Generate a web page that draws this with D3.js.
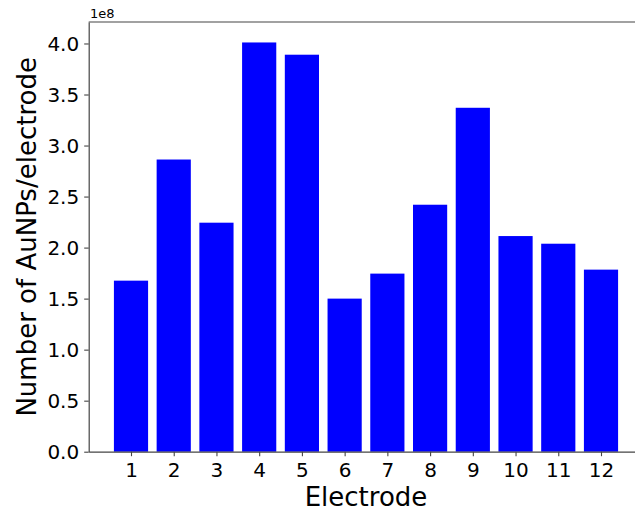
<!DOCTYPE html>
<html>
<head>
<meta charset="utf-8">
<script src="https://cdn.jsdelivr.net/npm/d3@7"></script>
<style>
  html, body { margin: 0; padding: 0; background: #fff; }
  svg { display: block; }
  text { font-family: "DejaVu Sans", sans-serif; fill: #000; }
</style>
</head>
<body>
<script>
// Electrode numbers and particle counts (in units of 1e8)
const electrodes = [1, 2, 3, 4, 5, 6, 7, 8, 9, 10, 11, 12];
const counts = [1.676, 2.863, 2.244, 4.01, 3.89, 1.50, 1.745, 2.42, 3.37, 2.113, 2.038, 1.784];
const yTicks = [0.0, 0.5, 1.0, 1.5, 2.0, 2.5, 3.0, 3.5, 4.0];

const W = 635, H = 514;
const plot = { left: 88.7, right: 643.3, top: 22, bottom: 451.7 };
const barWidth = 0.8;

const svg = d3.select("body").append("svg")
  .attr("width", W).attr("height", H);

// x domain padded by 5% around the outer bar edges
const xMin = electrodes[0] - barWidth / 2, xMax = electrodes[electrodes.length - 1] + barWidth / 2;
const xPad = (xMax - xMin) * 0.05;
const x = d3.scaleLinear()
  .domain([xMin - xPad, xMax + xPad])
  .range([plot.left, plot.right]);

const y = d3.scaleLinear()
  .domain([0, d3.max(counts) * 1.05])
  .range([plot.bottom, plot.top]);

// bars
svg.append("g").selectAll("rect")
  .data(electrodes)
  .join("rect")
  .attr("x", (d) => x(d - barWidth / 2))
  .attr("width", (d) => x(d + barWidth / 2) - x(d - barWidth / 2))
  .attr("y", (d, i) => y(counts[i]))
  .attr("height", (d, i) => y(0) - y(counts[i]))
  .attr("fill", "#0000ff");

// axes
const xAxis = d3.axisBottom(x).tickValues(electrodes).tickFormat(d3.format("d"))
  .tickSizeInner(4.5).tickSizeOuter(0).tickPadding(6);
const yAxis = d3.axisLeft(y).tickValues(yTicks).tickFormat(d3.format(".1f"))
  .tickSizeInner(4.5).tickSizeOuter(0).tickPadding(5);

const gx = svg.append("g").attr("transform", `translate(0,${plot.bottom})`).call(xAxis);
const gy = svg.append("g").attr("transform", `translate(${plot.left},0)`).call(yAxis);

[gx, gy].forEach((g) => {
  g.select(".domain").attr("stroke", "#444").attr("stroke-width", 1.2);
  g.selectAll(".tick line").attr("stroke", "#444").attr("stroke-width", 1.1);
  g.selectAll(".tick text")
    .attr("font-family", "DejaVu Sans, sans-serif")
    .attr("font-size", 20)
    .attr("fill", "#000");
});
gx.selectAll(".tick text").attr("dy", null).attr("y", 25);
gy.selectAll(".tick text").attr("dy", "0.36em");

// top spine
svg.append("line")
  .attr("x1", plot.left).attr("x2", plot.right)
  .attr("y1", plot.top).attr("y2", plot.top)
  .attr("stroke", "#444").attr("stroke-width", 1.2);
// right spine
svg.append("line")
  .attr("x1", plot.right).attr("x2", plot.right)
  .attr("y1", plot.top).attr("y2", plot.bottom)
  .attr("stroke", "#444").attr("stroke-width", 1.2);

// scale multiplier
svg.append("text")
  .attr("x", 90).attr("y", 17.5)
  .attr("font-size", 13)
  .text("1e8");

// axis titles
svg.append("text")
  .attr("x", (plot.left + plot.right) / 2).attr("y", 506)
  .attr("text-anchor", "middle")
  .attr("font-size", 26)
  .text("Electrode");

svg.append("text")
  .attr("transform", `translate(36,${(plot.top + plot.bottom) / 2}) rotate(-90)`)
  .attr("text-anchor", "middle")
  .attr("font-size", 26)
  .text("Number of AuNPs/electrode");
</script>
</body>
</html>
